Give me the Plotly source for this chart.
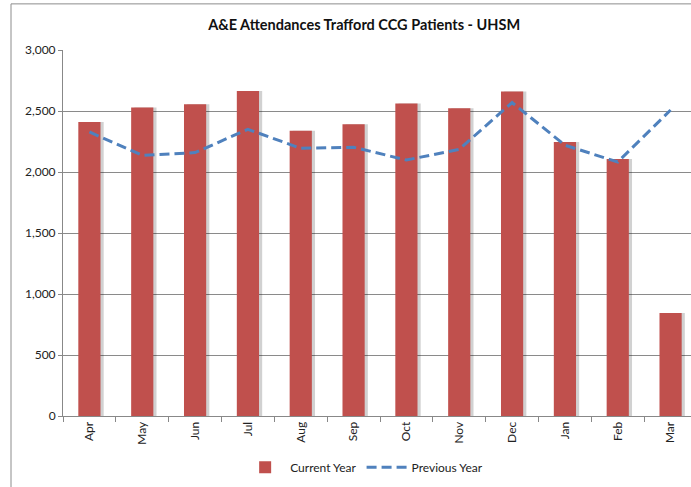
import plotly.graph_objects as go

# monthly A&E attendances
months = ["Apr", "May", "Jun", "Jul", "Aug", "Sep", "Oct", "Nov", "Dec", "Jan", "Feb", "Mar"]
current_year = [2410, 2528, 2555, 2664, 2339, 2391, 2561, 2522, 2659, 2246, 2107, 845]
previous_year = [2328, 2137, 2159, 2350, 2194, 2203, 2098, 2186, 2569, 2220, 2082, 2508]

fig = go.Figure()

# soft drop shadow behind the bars (Excel style)
fig.add_trace(go.Bar(
    x=months, y=current_year, showlegend=False, hoverinfo="skip",
    marker=dict(color="rgba(0,0,0,0.18)", line=dict(width=0)),
    width=0.42, offset=-0.21 + 0.06,
))
fig.add_trace(go.Bar(
    x=months, y=current_year, name="Current Year",
    marker=dict(color="#C0504D", line=dict(width=0)),
    width=0.42, offset=-0.21,
))
fig.add_trace(go.Scatter(
    x=months, y=previous_year, name="Previous Year", mode="lines",
    line=dict(color="#4F81BD", width=3, dash="10px,5px"),
))

# outer chart border (partly off-screen, like the source image)
fig.add_shape(type="rect", xref="paper", yref="paper",
              x0=-0.082, x1=1.05, y0=-0.22, y1=1.126,
              line=dict(color="#8c8c8c", width=1), layer="below")

# the source chart runs a few pixels past the right edge of the window
fig.update_layout(
    width=697, height=487,
    margin=dict(l=63, r=0, t=50, b=71),
    paper_bgcolor="white", plot_bgcolor="white",
    barmode="overlay",
    font=dict(family="Lato, Open Sans, sans-serif", size=12, color="#222"),
    title=dict(text="<b>A&E Attendances Trafford CCG Patients - UHSM</b>",
               x=0.475, xref="paper", xanchor="center", y=0.948, yanchor="middle",
               font=dict(size=14.5, color="#111")),
    showlegend=True,
    legend=dict(orientation="h", x=0.475, xanchor="center", y=-0.14, yanchor="middle",
                font=dict(size=12), itemwidth=40, traceorder="normal"),
    xaxis=dict(
        range=[-0.5, 11.5], tickangle=-90, showgrid=False,
        ticks="outside", tickson="boundaries", ticklen=5, tickcolor="#888",
        showline=True, linecolor="#888", linewidth=1, zeroline=False,
    ),
    yaxis=dict(
        range=[0, 3000], dtick=500, tickformat=",d",
        showgrid=True, gridcolor="#8a8a8a", gridwidth=1,
        showline=True, linecolor="#888", linewidth=1,
        ticks="outside", ticklen=4, tickcolor="#888",
        zeroline=False,
    ),
)

# drop the default page margin and hide the overflow
fig.write_html("out.html", config={"displayModeBar": False},
               post_script="document.body.style.margin='0';document.body.style.overflow='hidden';")
